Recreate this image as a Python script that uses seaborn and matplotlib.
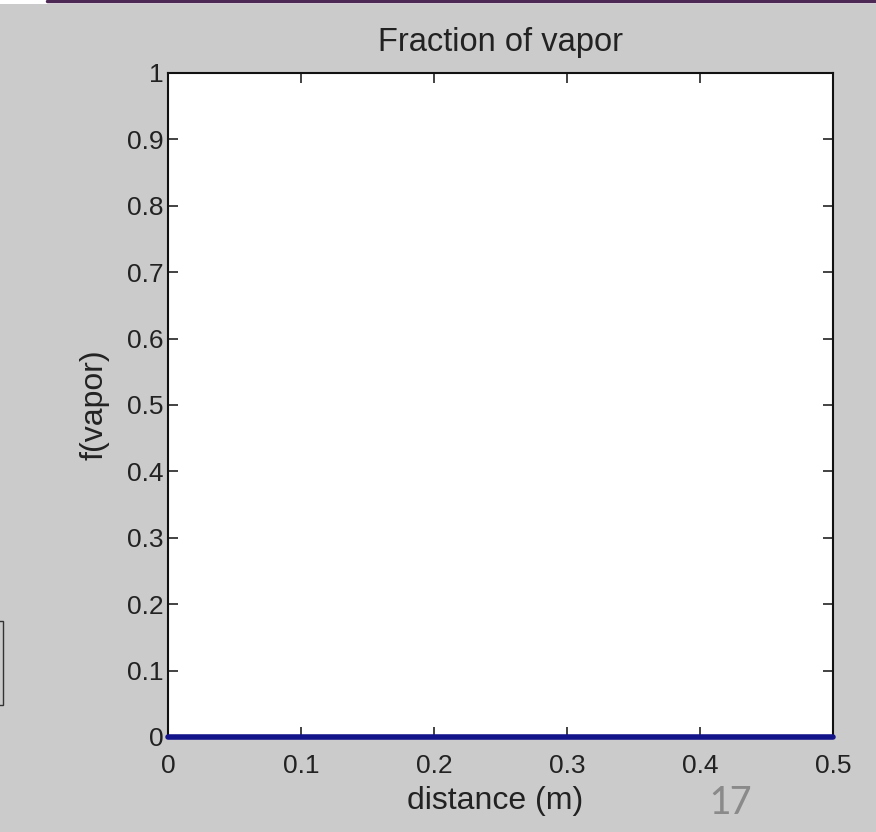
import matplotlib
matplotlib.use('Agg')
import matplotlib.pyplot as plt
import seaborn as sns
from matplotlib.lines import Line2D
from matplotlib.patches import Rectangle

# Data: vapor fraction stays at zero along the whole length
distance = [0.0, 0.1, 0.2, 0.3, 0.4, 0.5]
f_vapor = [0.0, 0.0, 0.0, 0.0, 0.0, 0.0]
x_ticks = [0, 0.1, 0.2, 0.3, 0.4, 0.5]
x_tick_labels = ['0', '0.1', '0.2', '0.3', '0.4', '0.5']
y_ticks = [0, 0.1, 0.2, 0.3, 0.4, 0.5, 0.6, 0.7, 0.8, 0.9, 1]
y_tick_labels = ['0', '0.1', '0.2', '0.3', '0.4', '0.5', '0.6', '0.7', '0.8', '0.9', '1']

sns.set_theme(style='ticks')
plt.rcParams['font.family'] = ['Liberation Sans', 'DejaVu Sans']

fig = plt.figure(figsize=(8.76, 8.32), dpi=100, facecolor='#cbcbcb')
ax = fig.add_axes([168 / 876, 1 - 737 / 832, 665 / 876, 664 / 832])
ax.set_facecolor('white')

sns.lineplot(x=distance, y=f_vapor, ax=ax, color='#14148a', linewidth=4, clip_on=False, zorder=5)

ax.set_xlim(0, 0.5)
ax.set_ylim(0, 1)
ax.set_xticks(x_ticks)
ax.set_xticklabels(x_tick_labels)
ax.set_yticks(y_ticks)
ax.set_yticklabels(y_tick_labels)
ax.tick_params(direction='in', length=7, width=1.2, top=True, right=True,
               labelsize=19, colors='#222222')
ax.tick_params(axis='x', pad=12)
ax.tick_params(axis='y', pad=3)
for s in ax.spines.values():
    s.set_color('#111111')
    s.set_linewidth(1.5)

ax.set_title('Fraction of vapor', fontsize=23.5, color='#222222', pad=16)
ax.set_xlabel('distance (m)', fontsize=23, color='#222222')
ax.set_ylabel('f(vapor)', fontsize=23, color='#222222')
ax.xaxis.set_label_coords(0.492, -0.074)
ax.yaxis.set_label_coords(-0.088, 0.5)

# slide decorations around the screenshot
fig.add_artist(Rectangle((0, 1 - 4 / 832), 1, 4 / 832, transform=fig.transFigure,
                         facecolor='white', edgecolor='none'))
fig.add_artist(Line2D([47 / 876, 1], [1 - 1 / 832, 1 - 1 / 832], transform=fig.transFigure,
                      color='#4d2a55', linewidth=2.5))
fig.add_artist(Rectangle((-0.01, 1 - 705 / 832), 0.013, 84 / 832, transform=fig.transFigure,
                         facecolor='none', edgecolor='#333333', linewidth=1))
fig.text(730 / 876, 1 - 803 / 832, '17', fontsize=31, color='#8a8a8a',
         family=['Carlito', 'Liberation Sans', 'DejaVu Sans'], ha='center', va='center')

fig.savefig('out.png', dpi=100, facecolor=fig.get_facecolor())
